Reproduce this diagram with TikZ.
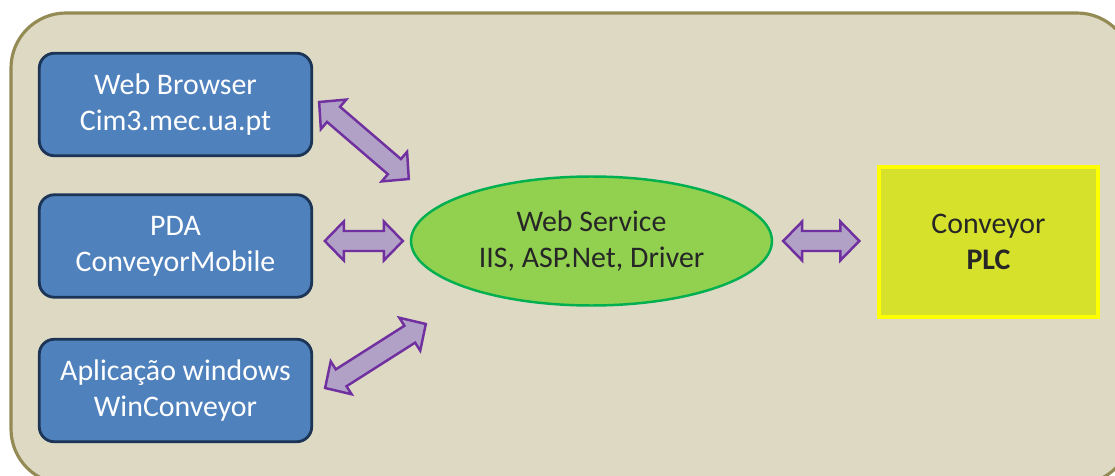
\documentclass[tikz,border=0pt]{standalone}
\usepackage{fontspec}
\setmainfont{Carlito}
\usetikzlibrary{shapes, arrows, positioning, calc}

\definecolor{panelfill}{HTML}{DDD9C3}
\definecolor{panelline}{HTML}{948A54}
\definecolor{clientfill}{HTML}{4F81BD}
\definecolor{clientline}{HTML}{1C3557}
\definecolor{servicefill}{HTML}{92D050}
\definecolor{serviceline}{HTML}{00B050}
\definecolor{plcfill}{HTML}{D5E12B}
\definecolor{plcline}{HTML}{FFFF00}
\definecolor{arrowfill}{HTML}{B2A1C7}
\definecolor{arrowline}{HTML}{7030A0}

\tikzset{
  client/.style={draw=clientline, fill=clientfill, line width=1.6pt,
    rounded corners=0.3cm, minimum width=5.45cm, minimum height=2.05cm,
    align=center, text=white, font=\fontsize{17}{20.5}\selectfont},
  service/.style={ellipse, draw=serviceline, fill=servicefill, line width=1.4pt,
    minimum width=7.22cm, minimum height=2.58cm, align=center,
    text=black!85, font=\fontsize{17}{20.5}\selectfont},
  plcbox/.style={draw=plcline, fill=plcfill, line width=2pt,
    minimum width=4.38cm, minimum height=3.0cm, align=center,
    text=black!85, font=\fontsize{17}{20.5}\selectfont},
  linkarrow/.style={draw=arrowline, fill=arrowfill, line width=1.4pt, line join=miter}
}

% double block arrow between two points
\newcommand{\dblarrow}[2]{%
  \filldraw[linkarrow] (#1)
    -- ($(#1)!0.38cm!(#2)!0.39cm!90:(#2)$)
    -- ($(#1)!0.38cm!(#2)!0.2cm!90:(#2)$)
    -- ($(#2)!0.38cm!(#1)!0.2cm!-90:(#1)$)
    -- ($(#2)!0.38cm!(#1)!0.39cm!-90:(#1)$)
    -- (#2)
    -- ($(#2)!0.38cm!(#1)!0.39cm!90:(#1)$)
    -- ($(#2)!0.38cm!(#1)!0.2cm!90:(#1)$)
    -- ($(#1)!0.38cm!(#2)!0.2cm!-90:(#2)$)
    -- ($(#1)!0.38cm!(#2)!0.39cm!-90:(#2)$)
    -- cycle;}

\begin{document}
\begin{tikzpicture}[x=0.02cm, y=-0.02cm]
  \useasboundingbox (0,0) rectangle (1115,476);

  % Panel
  \draw[panelline, fill=panelfill, line width=1.8pt, rounded corners=1.1cm]
    (11,13) rectangle (1132,484);

  % Clients
  \node[client] (browser) at (175.5,104.5) {Web Browser\\Cim3.mec.ua.pt};
  \node[client] (pda) at (175.5,246) {PDA\\ConveyorMobile};
  \node[client] (winapp) at (175.5,390.5) {Aplicação windows\\WinConveyor};

  % Web service
  \node[service] (ws) at (591.5,241) {Web Service\\IIS, ASP.Net, Driver};

  % PLC
  \node[plcbox] (plc) at (988.5,242) {Conveyor\\\textbf{PLC}};

  % Arrow ends
  \coordinate (a1) at ($(browser.east)+(6,-2.5)$);
  \coordinate (b1) at ($(ws.west)+(-1,-62)$);
  \coordinate (a2) at ($(ws.west)+(-85,0)$);
  \coordinate (b2) at ($(ws.west)+(-7,0)$);
  \coordinate (a3) at ($(winapp.east)+(12,-2.5)$);
  \coordinate (b3) at ($(ws.west)+(16,83)$);
  \coordinate (a4) at ($(ws.east)+(10,0)$);
  \coordinate (b4) at ($(plc.west)+(-18,-1)$);

  % Arrows
  \dblarrow{a1}{b1}
  \dblarrow{a2}{b2}
  \dblarrow{a3}{b3}
  \dblarrow{a4}{b4}
\end{tikzpicture}
\end{document}
